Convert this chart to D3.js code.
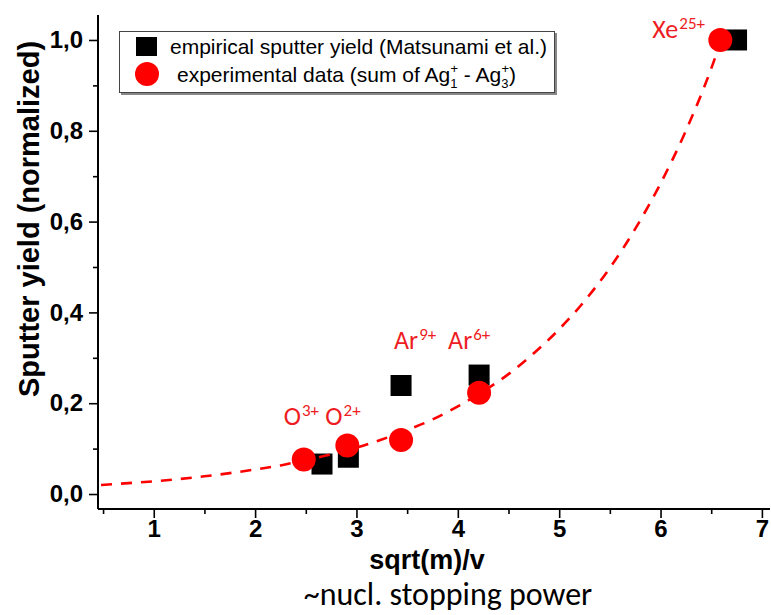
<!DOCTYPE html>
<html><head><meta charset="utf-8">
<script src="https://cdn.jsdelivr.net/npm/d3@7"></script>
<style>
body{margin:0;background:#fff;}
svg{display:block;}
</style></head>
<body>
<svg id="chart" width="771" height="615"></svg>
<script>
// ---- data ----
const squareX = [2.66, 2.92, 3.44, 4.21, 6.75];
const squareY = [0.066, 0.081, 0.239, 0.262, 1.0];
const circleX = [2.48, 2.91, 3.44, 4.21, 6.59];
const circleY = [0.076, 0.107, 0.119, 0.223, 1.0];
const fitX = [0.48, 0.75, 1.0, 1.25, 1.5, 1.75, 2.0, 2.25, 2.5, 2.75, 3.0, 3.25, 3.5, 3.75, 4.0, 4.25, 4.5, 4.75, 5.0, 5.25, 5.5, 5.75, 6.0, 6.25, 6.5, 6.6];
const fitY = [0.020, 0.024, 0.028, 0.033, 0.039, 0.046, 0.054, 0.063, 0.075, 0.087, 0.102, 0.120, 0.141, 0.164, 0.193, 0.226, 0.264, 0.310, 0.363, 0.425, 0.498, 0.584, 0.684, 0.800, 0.937, 1.0];
const ionBase = ["O", "O", "Ar", "Ar", "Xe"];
const ionCharge = ["3+", "2+", "9+", "6+", "25+"];
const xMajorTicks = [1, 2, 3, 4, 5, 6, 7];
const xMinorTicks = [0.5, 1.5, 2.5, 3.5, 4.5, 5.5, 6.5];
const yMajorTicks = [0, 0.2, 0.4, 0.6, 0.8, 1.0];
const yMinorTicks = [0.1, 0.3, 0.5, 0.7, 0.9];
const xTitle = "sqrt(m)/v";
const xSubTitle = "~nucl. stopping power";
const yTitle = "Sputter yield (normalized)";
const legend1 = "empirical sputter yield (Matsunami et al.)";

// ---- layout ----
const svg = d3.select("#chart");
const x = d3.scaleLinear().domain([0.45, 7.08]).range([98, 770]);
const y = d3.scaleLinear().domain([-0.033, 1.055]).range([509, 15]);
const RED = "#ff0000";
const LABEL_RED = "#ee1d23";
const boldFont = "'Liberation Sans', Arial, sans-serif";

// axes
const fmt = d => d3.format(".1f")(d).replace(".", ",");
const gx = svg.append("g").attr("transform", `translate(0,${y.range()[0]})`);
gx.call(d3.axisBottom(x).tickValues(xMajorTicks).tickSize(9).tickPadding(2).tickFormat(d3.format("d")));
gx.append("g").call(d3.axisBottom(x).tickValues(xMinorTicks).tickSize(5).tickFormat(""))
  .select(".domain").remove();
const gy = svg.append("g").attr("transform", `translate(${x.range()[0]},0)`);
gy.call(d3.axisLeft(y).tickValues(yMajorTicks).tickSize(9).tickPadding(6).tickFormat(fmt));
gy.append("g").call(d3.axisLeft(y).tickValues(yMinorTicks).tickSize(5).tickFormat(""))
  .select(".domain").remove();
[gx, gy].forEach(g => {
  g.selectAll(".domain").attr("stroke", "#000").attr("stroke-width", 2);
  g.selectAll(".tick line").attr("stroke", "#000").attr("stroke-width", 1.6);
  g.selectAll(".tick text").attr("fill", "#000")
    .style("font-family", boldFont).style("font-weight", "bold").style("font-size", "24px");
});
gx.selectAll(".domain").attr("d", `M${x.range()[0]},0H${x.range()[1]}`);
gy.selectAll(".domain").attr("d", `M0,${y.range()[0]}V${y.range()[1]}`);

// titles
svg.append("text").attr("x", 427).attr("y", 569).attr("text-anchor", "middle")
  .style("font-family", boldFont).style("font-weight", "bold").style("font-size", "27px")
  .text(xTitle);
svg.append("text").attr("x", 448).attr("y", 605).attr("text-anchor", "middle")
  .style("font-family", "Carlito, Lato, sans-serif").style("font-size", "32px")
  .text(xSubTitle);
svg.append("text").attr("transform", "translate(39,219) rotate(-90)").attr("text-anchor", "middle")
  .style("font-family", boldFont).style("font-weight", "bold").style("font-size", "29px")
  .text(yTitle);

// clip
svg.append("clipPath").attr("id", "plotclip").append("rect")
  .attr("x", x.range()[0]).attr("y", y.range()[1])
  .attr("width", x.range()[1] - x.range()[0]).attr("height", y.range()[0] - y.range()[1]);

// squares
const SQ = 21;
svg.append("g").selectAll("rect").data(squareX).join("rect")
  .attr("x", (d) => x(d) - SQ / 2).attr("y", (d, i) => y(squareY[i]) - SQ / 2)
  .attr("width", SQ).attr("height", SQ).attr("fill", "#000");

// fit line
const line = d3.line().x(d => x(d[0])).y(d => y(d[1])).curve(d3.curveMonotoneX);
svg.append("path").datum(fitX.map((d, i) => [d, fitY[i]]))
  .attr("clip-path", "url(#plotclip)")
  .attr("d", line).attr("fill", "none").attr("stroke", RED)
  .attr("stroke-width", 2.6).attr("stroke-dasharray", "11,9");

// circles
svg.append("g").selectAll("circle").data(circleX).join("circle")
  .attr("cx", d => x(d)).attr("cy", (d, i) => y(circleY[i])).attr("r", 12)
  .attr("fill", RED);

// ion labels
const labDx = [-20, -22, -7, -31, -68];
const labLevel = [0.153, 0.153, 0.32, 0.32, 1.004];
const lab = svg.append("g").style("font-family", "Carlito, Lato, sans-serif").attr("fill", LABEL_RED);
ionBase.forEach((b, i) => {
  const t = lab.append("text").attr("x", x(circleX[i]) + labDx[i]).attr("y", y(labLevel[i]))
    .style("font-size", "26px");
  t.append("tspan").text(b);
  t.append("tspan").attr("dx", 1).attr("dy", -9).style("font-size", "17px").text(ionCharge[i]);
});

// legend
const lg = svg.append("g");
lg.append("rect").attr("x", 121).attr("y", 33).attr("width", 436).attr("height", 62).attr("fill", "#888");
lg.append("rect").attr("x", 119.5).attr("y", 31.5).attr("width", 435).attr("height", 61)
  .attr("fill", "#fff").attr("stroke", "#444").attr("stroke-width", 1);
lg.append("rect").attr("x", 136).attr("y", 37).attr("width", SQ).attr("height", SQ - 2).attr("fill", "#000");
lg.append("circle").attr("cx", 147).attr("cy", 74).attr("r", 12).attr("fill", RED);
const lf = "'Liberation Sans', Arial, sans-serif";
lg.append("text").attr("x", 170).attr("y", 54).style("font-family", lf).style("font-size", "21px").text(legend1);
const t2 = lg.append("text").attr("x", 177).attr("y", 82).style("font-family", lf).style("font-size", "21px");
t2.append("tspan").text("experimental data (sum of Ag");
t2.append("tspan").attr("dy", 6).style("font-size", "13px").text("1");
t2.append("tspan").attr("dx", -7).attr("dy", -15).style("font-size", "13px").text("+");
t2.append("tspan").attr("dy", 9).text(" - Ag");
t2.append("tspan").attr("dy", 6).style("font-size", "13px").text("3");
t2.append("tspan").attr("dx", -7).attr("dy", -15).style("font-size", "13px").text("+");
t2.append("tspan").attr("dy", 9).text(")");
</script>
</body></html>
